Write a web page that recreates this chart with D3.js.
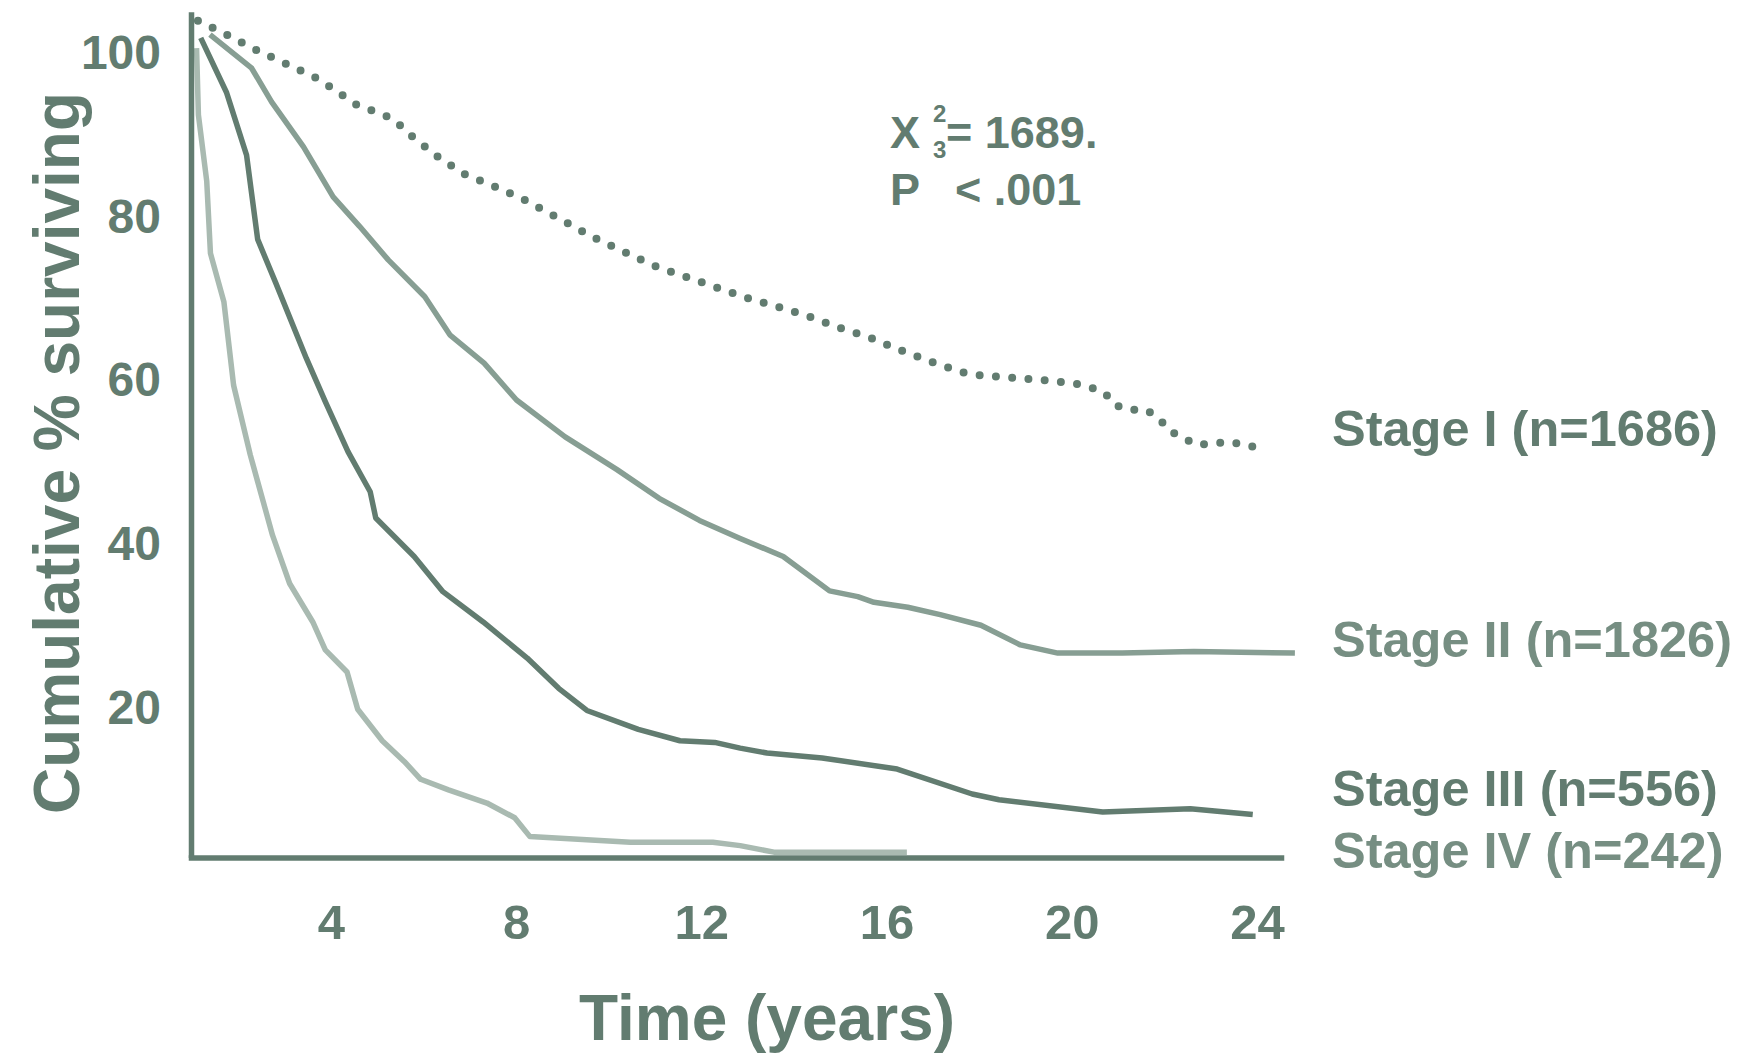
<!DOCTYPE html>
<html>
<head>
<meta charset="utf-8">
<script src="https://cdn.jsdelivr.net/npm/d3@7"></script>
<style>
body { margin:0; background:#fff; }
svg { display:block; }
text { font-family:"Liberation Sans", Arial, sans-serif; font-weight:bold; }
</style>
</head>
<body>
<svg id="chart" width="1752" height="1053"></svg>
<script>
// survival curves (time in years, cumulative % surviving)
const stage1Time = [1.13,1.75,2.38,3.01,3.65,3.95,4.54,4.86,5.19,5.48,5.74,6.28,6.87,7.52,8.16,8.78,9.69,10.35,10.97,11.63,12.3,12.97,13.64,14.32,14.99,15.65,16.29,16.95,17.62,17.96,18.66,19.36,20.07,20.4,20.71,20.93,21.24,21.6,21.87,22.11,22.4,22.72,23.05,23.41,23.75,24.08];
const stage1Surv = [103.7,102.0,100.15,98.5,96.8,95.75,93.5,92.8,92.1,91.0,89.65,87.2,85.0,83.5,81.9,80.0,77.2,75.45,73.8,72.5,71.2,69.9,68.8,67.6,66.2,65.0,63.5,62.1,60.8,60.45,60.15,59.85,59.4,58.95,58.3,56.8,56.2,56.2,55.25,53.65,52.75,51.9,52.1,52.3,51.9,51.5];

const stage2Time = [1.39,2.29,2.72,3.41,4.05,4.62,5.24,6.03,6.57,7.31,8.01,9.06,10.18,11.09,11.96,12.84,13.77,14.77,15.38,15.73,16.46,17.16,18.04,18.89,19.7,21.09,22.64,24.82];
const stage2Surv = [102.0,97.9,93.8,88.3,82.2,78.6,74.5,70.0,65.35,61.9,57.4,52.9,48.9,45.4,42.7,40.5,38.3,34.1,33.4,32.7,32.1,31.2,29.9,27.5,26.5,26.5,26.7,26.5];

const stage3Time = [1.19,1.75,2.18,2.42,2.81,3.47,3.88,4.37,4.85,4.97,5.8,6.42,7.29,8.24,8.92,9.53,10.64,11.54,12.29,12.84,13.42,14.61,16.23,17.85,18.43,20.67,22.56,23.91];
const stage3Surv = [101.6,94.9,87.3,77.0,71.7,62.5,57.2,51.1,46.2,43.0,38.3,34.0,30.3,25.9,22.2,19.5,17.2,15.8,15.6,14.9,14.3,13.7,12.35,9.3,8.6,7.1,7.5,6.8];

const stage4Time = [1.1,1.14,1.32,1.4,1.69,1.9,2.26,2.74,3.11,3.61,3.88,4.35,4.58,5.11,5.59,5.94,6.54,7.37,7.97,8.3,10.47,12.25,12.84,13.57,16.44];
const stage4Surv = [100.35,92.2,84.1,75.3,69.4,59.2,50.7,40.9,35.0,30.3,26.9,24.2,19.65,15.8,13.25,11.1,9.8,8.2,6.4,4.1,3.4,3.4,3.0,2.2,2.2];

const stageNames = ["Stage I (n=1686)","Stage II (n=1826)","Stage III (n=556)","Stage IV (n=242)"];
const xTicks = [4,8,12,16,20,24];
const yTicks = [20,40,60,80,100];

const dark = "#627c70";
const svg = d3.select("#chart");

// axes sit a bit off the tick label origin in the original, so domains are odd on purpose
let x = d3.scaleLinear().domain([0.98, 24.52]).range([191, 1281]);
let y = d3.scaleLinear().domain([1.55, 104.8]).range([857.5, 11.7]);

let line = d3.line()
    .x(d => x(d[0]))
    .y(d => y(d[1]));

let series = [
  {name: stageNames[0], pts: d3.zip(stage1Time, stage1Surv), color: dark, dotted: true, labelColor: dark, labelY: 445.7},
  {name: stageNames[1], pts: d3.zip(stage2Time, stage2Surv), color: "#879e93", dotted: false, labelColor: "#768e82", labelY: 657},
  {name: stageNames[2], pts: d3.zip(stage3Time, stage3Surv), color: dark, dotted: false, labelColor: dark, labelY: 806},
  {name: stageNames[3], pts: d3.zip(stage4Time, stage4Surv), color: "#a9bab1", dotted: false, labelColor: "#768e82", labelY: 868}
];

svg.selectAll("path.curve")
   .data(series)
   .join("path")
   .attr("class", "curve")
   .attr("d", d => line(d.pts))
   .attr("fill", "none")
   .attr("stroke", d => d.color)
   .attr("stroke-width", d => d.dotted ? 8 : 5.5)
   .attr("stroke-linecap", d => d.dotted ? "round" : "butt")
   .attr("stroke-linejoin", "round")
   .attr("stroke-dasharray", d => d.dotted ? "0 16.3" : null);

// x axis
let xAxis = svg.append("g")
   .attr("transform", "translate(0," + y(1.55) + ")")
   .call(d3.axisBottom(x).tickValues(xTicks).tickSizeInner(0).tickSizeOuter(0).tickPadding(47));
xAxis.select(".domain").attr("stroke", dark).attr("stroke-width", 5.5).attr("stroke-linecap", "square");
xAxis.selectAll("text")
   .attr("fill", dark)
   .attr("font-size", 49)
   .attr("font-family", "Liberation Sans, Arial, sans-serif");

// y axis
let yAxis = svg.append("g")
   .attr("transform", "translate(" + x(0.98) + ",0)")
   .call(d3.axisLeft(y).tickValues(yTicks).tickSizeInner(0).tickSizeOuter(0).tickPadding(30));
yAxis.select(".domain").attr("stroke", dark).attr("stroke-width", 5.5);
yAxis.selectAll("text")
   .attr("fill", dark)
   .attr("font-size", 48)
   .attr("dy", "0.36em")
   .attr("font-family", "Liberation Sans, Arial, sans-serif");

// axis titles
svg.append("text")
   .attr("transform", "translate(79,453) rotate(-90)")
   .attr("text-anchor", "middle")
   .attr("fill", dark)
   .attr("font-size", 64)
   .text("Cumulative % surviving");

svg.append("text")
   .attr("x", 767)
   .attr("y", 1040)
   .attr("text-anchor", "middle")
   .attr("fill", dark)
   .attr("font-size", 64)
   .text("Time (years)");

// curve labels
svg.selectAll("text.stage")
   .data(series)
   .join("text")
   .attr("class", "stage")
   .attr("x", 1332)
   .attr("y", d => d.labelY)
   .attr("fill", d => d.labelColor)
   .attr("font-size", 50.5)
   .text(d => d.name);

// chi square annotation
let stat = svg.append("g").attr("fill", dark);
stat.append("text").attr("x", 890).attr("y", 148).attr("font-size", 45).text("X");
stat.append("text").attr("x", 933).attr("y", 122).attr("font-size", 24).text("2");
stat.append("text").attr("x", 933).attr("y", 158).attr("font-size", 24).text("3");
stat.append("text").attr("x", 946).attr("y", 148).attr("font-size", 45).text("= 1689.");
stat.append("text").attr("x", 890).attr("y", 205).attr("font-size", 45).text("P");
stat.append("text").attr("x", 955).attr("y", 205).attr("font-size", 45).text("< .001");
</script>
</body>
</html>
